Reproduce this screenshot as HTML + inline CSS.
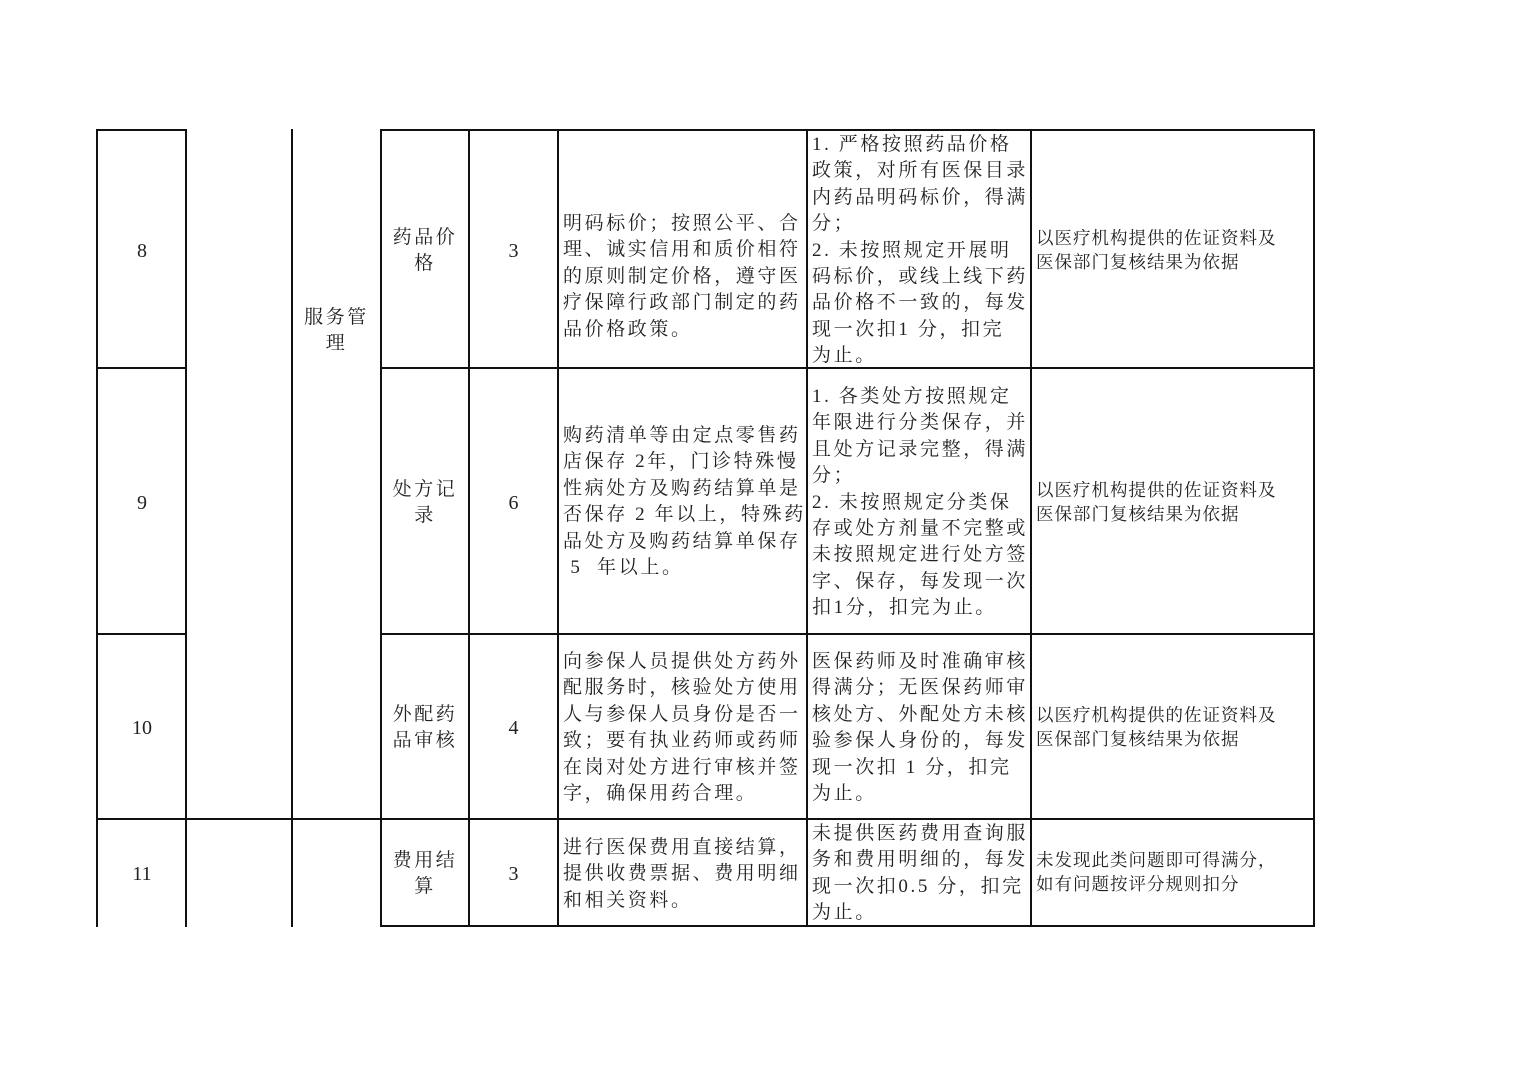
<!DOCTYPE html>
<html><head><meta charset="utf-8"><style>
body{margin:0;width:1519px;height:1074px;background:#fff;position:relative;overflow:hidden;font-family:"Liberation Serif","Noto Serif CJK SC",serif;color:#222}
.h,.v{position:absolute;background:#111}
.h{height:2px}.v{width:2px}
.t{position:absolute;white-space:pre;font-size:19px;line-height:26.4px;letter-spacing:2.6px}
.c{text-align:center}
.n{letter-spacing:0;font-size:20px}
.g{position:absolute;white-space:pre;font-size:17.5px;line-height:24px;letter-spacing:1px}
</style></head><body>
<div class="h" style="left:97px;top:129px;width:90px"></div>
<div class="h" style="left:380px;top:129px;width:935px"></div>
<div class="h" style="left:97px;top:367px;width:90px"></div>
<div class="h" style="left:380px;top:367px;width:935px"></div>
<div class="h" style="left:97px;top:633px;width:90px"></div>
<div class="h" style="left:380px;top:633px;width:935px"></div>
<div class="h" style="left:97px;top:818px;width:1218px"></div>
<div class="h" style="left:380px;top:925px;width:935px"></div>
<div class="v" style="left:96px;top:129px;height:798px"></div>
<div class="v" style="left:185px;top:129px;height:798px"></div>
<div class="v" style="left:291px;top:129px;height:798px"></div>
<div class="v" style="left:380px;top:129px;height:798px"></div>
<div class="v" style="left:468px;top:129px;height:798px"></div>
<div class="v" style="left:557px;top:129px;height:798px"></div>
<div class="v" style="left:806px;top:129px;height:798px"></div>
<div class="v" style="left:1030px;top:129px;height:798px"></div>
<div class="v" style="left:1313px;top:129px;height:798px"></div>

<div class="t c n" style="left:97px;width:90px;top:238px">8</div>
<div class="t c n" style="left:97px;width:90px;top:490px">9</div>
<div class="t c n" style="left:97px;width:90px;top:715px">10</div>
<div class="t c n" style="left:97px;width:90px;top:861px">11</div>

<div class="t c" style="left:292px;width:89px;top:305px">服务管
理</div>

<div class="t c" style="left:381px;width:88px;top:225px">药品价
格</div>
<div class="t c" style="left:381px;width:88px;top:477px">处方记
录</div>
<div class="t c" style="left:381px;width:88px;top:702px">外配药
品审核</div>
<div class="t c" style="left:381px;width:88px;top:848px">费用结
算</div>

<div class="t c n" style="left:469px;width:89px;top:238px">3</div>
<div class="t c n" style="left:469px;width:89px;top:490px">6</div>
<div class="t c n" style="left:469px;width:89px;top:715px">4</div>
<div class="t c n" style="left:469px;width:89px;top:861px">3</div>

<div class="t" style="left:563px;top:211px">明码标价；按照公平、合
理、诚实信用和质价相符
的原则制定价格，遵守医
疗保障行政部门制定的药
品价格政策。</div>
<div class="t" style="left:563px;top:423px">购药清单等由定点零售药
店保存 2年，门诊特殊慢
性病处方及购药结算单是
否保存 2 年以上，特殊药
品处方及购药结算单保存
 5  年以上。</div>
<div class="t" style="left:563px;top:649px">向参保人员提供处方药外
配服务时，核验处方使用
人与参保人员身份是否一
致；要有执业药师或药师
在岗对处方进行审核并签
字，确保用药合理。</div>
<div class="t" style="left:563px;top:835px">进行医保费用直接结算，
提供收费票据、费用明细
和相关资料。</div>

<div class="t" style="left:812px;top:132px">1. 严格按照药品价格
政策，对所有医保目录
内药品明码标价，得满
分；
2. 未按照规定开展明
码标价，或线上线下药
品价格不一致的，每发
现一次扣1 分，扣完
为止。</div>
<div class="t" style="left:812px;top:384px">1. 各类处方按照规定
年限进行分类保存，并
且处方记录完整，得满
分；
2. 未按照规定分类保
存或处方剂量不完整或
未按照规定进行处方签
字、保存，每发现一次
扣1分，扣完为止。</div>
<div class="t" style="left:812px;top:649px">医保药师及时准确审核
得满分；无医保药师审
核处方、外配处方未核
验参保人身份的，每发
现一次扣 1 分，扣完
为止。</div>
<div class="t" style="left:812px;top:821px">未提供医药费用查询服
务和费用明细的，每发
现一次扣0.5 分，扣完
为止。</div>

<div class="g" style="left:1036px;top:226px">以医疗机构提供的佐证资料及
医保部门复核结果为依据</div>
<div class="g" style="left:1036px;top:478px">以医疗机构提供的佐证资料及
医保部门复核结果为依据</div>
<div class="g" style="left:1036px;top:703px">以医疗机构提供的佐证资料及
医保部门复核结果为依据</div>
<div class="g" style="left:1036px;top:848px">未发现此类问题即可得满分，
如有问题按评分规则扣分</div>
</body></html>
